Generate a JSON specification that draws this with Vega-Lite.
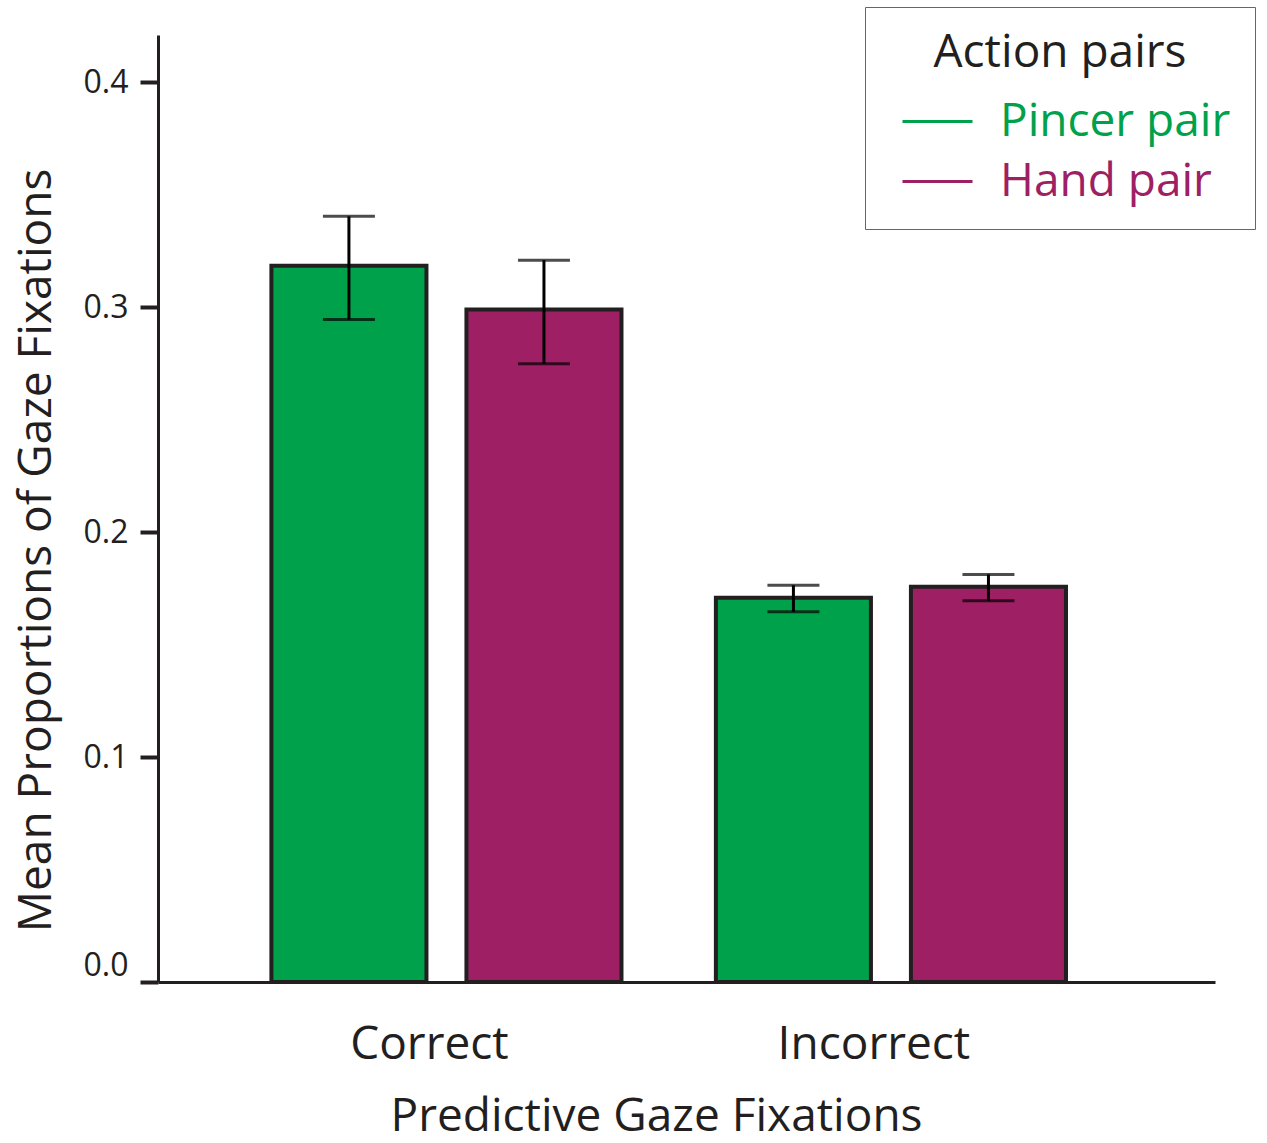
{
  "$schema": "https://vega.github.io/schema/vega-lite/v6.json",
  "autosize": {"type": "none"},
  "width": 1057,
  "height": 947,
  "padding": {"left": 158, "top": 35, "right": 52, "bottom": 161},
  "background": "white",
  "config": {
    "view": {"stroke": null},
    "font": "Open Sans",
    "axis": {"grid": false, "domainColor": "#231F20", "domainWidth": 3, "labelColor": "#231F20", "titleColor": "#231F20", "titleFontWeight": "normal"}
  },
  "data": {
    "values": [
      {"outcome": "Correct", "pair": "Pincer pair", "mean": 0.3184, "lo": 0.2945, "hi": 0.3404},
      {"outcome": "Correct", "pair": "Hand pair", "mean": 0.2990, "lo": 0.2748, "hi": 0.3209},
      {"outcome": "Incorrect", "pair": "Pincer pair", "mean": 0.1708, "lo": 0.1646, "hi": 0.1764},
      {"outcome": "Incorrect", "pair": "Hand pair", "mean": 0.1757, "lo": 0.1695, "hi": 0.1812}
    ]
  },
  "encoding": {
    "x": {
      "field": "outcome",
      "type": "nominal",
      "sort": ["Correct", "Incorrect"],
      "scale": {"paddingInner": 0, "paddingOuter": 0.189, "align": 0.394},
      "axis": {
        "title": "Predictive Gaze Fixations",
        "labelAngle": 0,
        "labelFontSize": 46,
        "labelLimit": 400,
        "labelPadding": 40,
        "labelOffset": -17,
        "labelBaseline": "top",
        "ticks": false,
        "tickSize": 0,
        "titleFontSize": 46,
        "titleLimit": 800,
        "titleX": 498,
        "titleY": 148,
        "titleAlign": "center",
        "titleBaseline": "alphabetic"
      }
    },
    "xOffset": {
      "field": "pair",
      "type": "nominal",
      "sort": ["Pincer pair", "Hand pair"],
      "scale": {"paddingInner": 0.205, "paddingOuter": 0.242}
    }
  },
  "layer": [
    {
      "mark": {"type": "bar"},
      "encoding": {
        "y": {
          "field": "mean",
          "type": "quantitative",
          "scale": {"domain": [0, 0.421], "nice": false, "zero": true},
          "axis": {
            "title": "Mean Proportions of Gaze Fixations",
            "values": [0, 0.1, 0.2, 0.3, 0.4],
            "format": ".1f",
            "labelFontSize": 32,
            "labelPadding": 12,
            "labelFlush": true,
            "tickSize": 18,
            "tickWidth": 4,
            "tickColor": "#231F20",
            "titleFontSize": 46,
            "titleLimit": 900,
            "titleAngle": -90,
            "titleX": -108,
            "titleY": 515,
            "titleAlign": "center",
            "titleBaseline": "alphabetic"
          }
        },
        "color": {
          "field": "pair",
          "type": "nominal",
          "scale": {"domain": ["Pincer pair", "Hand pair"], "range": ["#00A14B", "#9E1F63"]},
          "legend": {
            "title": "Action pairs",
            "orient": "none",
            "legendX": 707,
            "legendY": -28,
            "direction": "vertical",
            "symbolType": "stroke",
            "symbolSize": 4900,
            "symbolStrokeWidth": 3,
            "symbolOffset": 12,
            "symbolStrokeColor": {"expr": "datum.value === 'Pincer pair' ? '#00A14B' : '#9E1F63'"},
            "labelColor": {"expr": "datum.value === 'Pincer pair' ? '#00A14B' : '#9E1F63'"},
            "labelFontSize": 46,
            "labelLimit": 400,
            "labelOffset": 26,
            "titleFontSize": 46,
            "titleLimit": 400,
            "titleFontWeight": "normal",
            "titleColor": "#231F20",
            "titleAnchor": "middle",
            "titlePadding": 8,
            "rowPadding": -8,
            "padding": 24,
            "strokeColor": "#666666",
            "fillColor": "white"
          }
        }
      }
    },
    {
      "mark": {"type": "bar", "fill": "transparent", "stroke": "#231F20", "strokeWidth": 4},
      "encoding": {
        "y": {"field": "mean", "type": "quantitative"}
      }
    },
    {
      "mark": {"type": "rule", "strokeWidth": 3, "color": "black"},
      "encoding": {
        "y": {"field": "lo", "type": "quantitative"},
        "y2": {"field": "hi"}
      }
    },
    {
      "mark": {"type": "tick", "size": 52, "thickness": 3, "color": "black"},
      "encoding": {
        "y": {"field": "lo", "type": "quantitative"}
      }
    },
    {
      "mark": {"type": "tick", "size": 52, "thickness": 3, "color": "black"},
      "encoding": {
        "y": {"field": "hi", "type": "quantitative"}
      }
    }
  ]
}
